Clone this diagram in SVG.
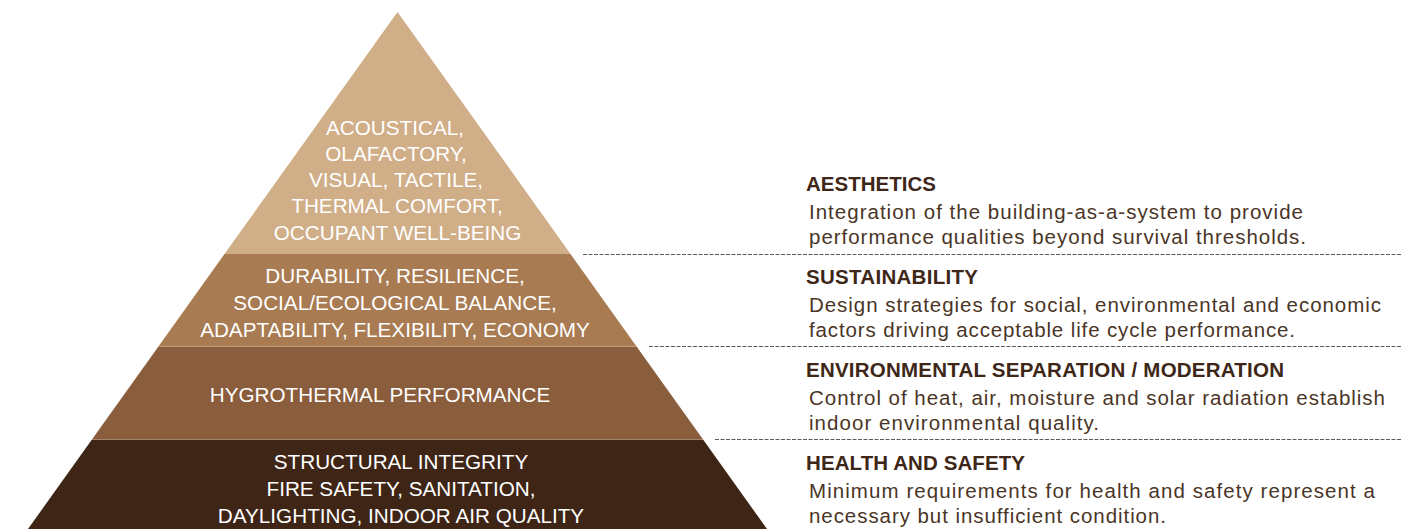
<svg xmlns="http://www.w3.org/2000/svg" width="1414" height="529" viewBox="0 0 1414 529">
  <style>
    .pt { font-family: "Liberation Sans", Arial, sans-serif; font-size: 20.7px; fill: #ffffff; text-anchor: middle; }
    .hd { font-family: "Liberation Sans", Arial, sans-serif; font-size: 20.5px; font-weight: bold; fill: #3e2718; }
    .bd { font-family: "Liberation Sans", Arial, sans-serif; font-size: 20.5px; fill: #4a3526; }
    .dash { stroke: #5a5a5a; stroke-width: 1; stroke-dasharray: 4 1.5; fill: none; }
    .sep { stroke: #e3c7a6; stroke-opacity: 0.6; stroke-width: 1; }
  </style>
  <rect width="1414" height="529" fill="#ffffff"/>
  <g id="layer-aesthetics">
    <polygon points="397.5,12 570.5,254 224.5,254" fill="#d0ae88"/>
    <text class="pt" x="395" y="135">ACOUSTICAL,</text>
    <text class="pt" x="396" y="161">OLAFACTORY,</text>
    <text class="pt" x="396" y="187">VISUAL, TACTILE,</text>
    <text class="pt" x="397" y="213">THERMAL COMFORT,</text>
    <text class="pt" x="397.5" y="240">OCCUPANT WELL-BEING</text>
  </g>
  <g id="layer-sustainability">
    <polygon points="224.5,254 570.5,254 636.2,346 158.8,346" fill="#a87b52"/>
    <text class="pt" x="395" y="283">DURABILITY, RESILIENCE,</text>
    <text class="pt" x="395" y="310">SOCIAL/ECOLOGICAL BALANCE,</text>
    <text class="pt" x="395" y="337">ADAPTABILITY, FLEXIBILITY, ECONOMY</text>
  </g>
  <g id="layer-environmental">
    <polygon points="158.8,346 636.2,346 702.7,439 92.3,439" fill="#8a5d3c"/>
    <text class="pt" x="380" y="402">HYGROTHERMAL PERFORMANCE</text>
  </g>
  <g id="layer-health">
    <polygon points="92.3,439 702.7,439 767,529 28,529" fill="#3e2516"/>
    <text class="pt" x="401" y="469">STRUCTURAL INTEGRITY</text>
    <text class="pt" x="401" y="496">FIRE SAFETY, SANITATION,</text>
    <text class="pt" x="401" y="523">DAYLIGHTING, INDOOR AIR QUALITY</text>
  </g>
  <g id="separators">
    <line class="sep" x1="159" y1="346.5" x2="636" y2="346.5"/>
    <line class="sep" x1="92" y1="439.5" x2="703" y2="439.5"/>
  </g>
  <g id="connectors">
    <line class="dash" x1="583" y1="254.5" x2="1402" y2="254.5"/>
    <line class="dash" x1="649" y1="346.5" x2="1402" y2="346.5"/>
    <line class="dash" x1="715" y1="439.5" x2="1402" y2="439.5"/>
  </g>
  <g id="desc-aesthetics">
    <text class="hd" x="806" y="191" textLength="130" lengthAdjust="spacing">AESTHETICS</text>
    <text class="bd" x="809" y="219" textLength="494" lengthAdjust="spacing">Integration of the building-as-a-system to provide</text>
    <text class="bd" x="809" y="244" textLength="497" lengthAdjust="spacing">performance qualities beyond survival thresholds.</text>
  </g>
  <g id="desc-sustainability">
    <text class="hd" x="806" y="284" textLength="172" lengthAdjust="spacing">SUSTAINABILITY</text>
    <text class="bd" x="809" y="312" textLength="572" lengthAdjust="spacing">Design strategies for social, environmental and economic</text>
    <text class="bd" x="809" y="337" textLength="486" lengthAdjust="spacing">factors driving acceptable life cycle performance.</text>
  </g>
  <g id="desc-environmental">
    <text class="hd" x="806" y="377" textLength="478" lengthAdjust="spacing">ENVIRONMENTAL SEPARATION / MODERATION</text>
    <text class="bd" x="809" y="405" textLength="576" lengthAdjust="spacing">Control of heat, air, moisture and solar radiation establish</text>
    <text class="bd" x="809" y="430" textLength="290" lengthAdjust="spacing">indoor environmental quality.</text>
  </g>
  <g id="desc-health">
    <text class="hd" x="806" y="470" textLength="219" lengthAdjust="spacing">HEALTH AND SAFETY</text>
    <text class="bd" x="809" y="498" textLength="566" lengthAdjust="spacing">Minimum requirements for health and safety represent a</text>
    <text class="bd" x="809" y="523" textLength="357" lengthAdjust="spacing">necessary but insufficient condition.</text>
  </g>
</svg>
